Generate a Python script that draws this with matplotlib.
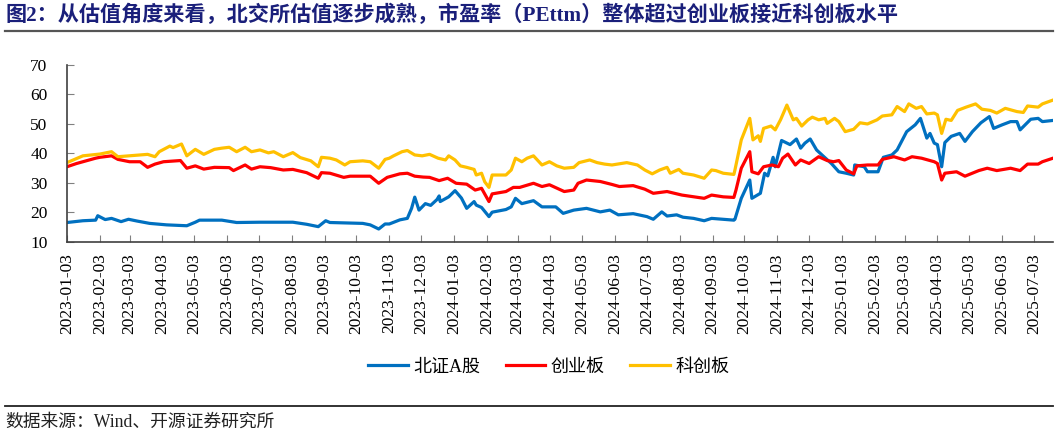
import pandas as pd
import matplotlib
matplotlib.use("Agg")
import matplotlib.pyplot as plt
import matplotlib.dates as mdates
from matplotlib.lines import Line2D

plt.rcParams['font.family'] = ['Liberation Serif', 'Noto Sans CJK SC']

# 北证A股 PE(ttm)
bz_dates = ["2023-01-03", "2023-01-18", "2023-01-30", "2023-02-01", "2023-02-08", "2023-02-14",
            "2023-02-23", "2023-03-02", "2023-03-10", "2023-03-22", "2023-04-07", "2023-04-26",
            "2023-05-04", "2023-05-08", "2023-05-29", "2023-06-12", "2023-07-04", "2023-08-04",
            "2023-08-17", "2023-08-28", "2023-09-04", "2023-09-08", "2023-10-09", "2023-10-16",
            "2023-10-24", "2023-10-30", "2023-11-03", "2023-11-13", "2023-11-20", "2023-11-24",
            "2023-11-27", "2023-12-01", "2023-12-07", "2023-12-12", "2023-12-18", "2023-12-20",
            "2023-12-21", "2023-12-29", "2024-01-04", "2024-01-10", "2024-01-15", "2024-01-22",
            "2024-01-24", "2024-01-29", "2024-02-05", "2024-02-08", "2024-02-21", "2024-02-26",
            "2024-03-01", "2024-03-07", "2024-03-18", "2024-03-26", "2024-04-08", "2024-04-15",
            "2024-04-25", "2024-05-07", "2024-05-20", "2024-05-29", "2024-06-06", "2024-06-20",
            "2024-07-03", "2024-07-09", "2024-07-17", "2024-07-22", "2024-07-31", "2024-08-06",
            "2024-08-16", "2024-08-26", "2024-09-02", "2024-09-23", "2024-09-24", "2024-09-30",
            "2024-10-08", "2024-10-10", "2024-10-18", "2024-10-22", "2024-10-25", "2024-10-30",
            "2024-11-01", "2024-11-07", "2024-11-15", "2024-11-21", "2024-11-25", "2024-11-29",
            "2024-12-04", "2024-12-10", "2024-12-16", "2024-12-24", "2024-12-31", "2025-01-07",
            "2025-01-14", "2025-01-15", "2025-01-24", "2025-01-27", "2025-02-06", "2025-02-11",
            "2025-02-19", "2025-02-24", "2025-03-05", "2025-03-13", "2025-03-18", "2025-03-24",
            "2025-03-27", "2025-03-31", "2025-04-03", "2025-04-07", "2025-04-10", "2025-04-16",
            "2025-04-24", "2025-04-29", "2025-05-06", "2025-05-14", "2025-05-22", "2025-05-26",
            "2025-06-03", "2025-06-11", "2025-06-17", "2025-06-20", "2025-06-30", "2025-07-07",
            "2025-07-11", "2025-07-21"]
bz_pe = [16.6, 17.2, 17.4, 18.9, 17.6, 18.0,
         16.9, 17.7, 17.1, 16.3, 15.8, 15.5,
         16.7, 17.4, 17.4, 16.6, 16.7, 16.7,
         16.0, 15.2, 17.2, 16.6, 16.3, 15.8,
         14.4, 16.1, 16.1, 17.5, 18.0, 21.4,
         25.2, 20.8, 23.0, 22.4, 24.4, 25.6,
         23.7, 25.3, 27.4, 24.9, 21.4, 23.7,
         22.5, 21.7, 18.6, 20.1, 21.0, 21.9,
         24.8, 23.0, 24.0, 21.9, 21.9, 19.7,
         20.8, 21.4, 20.2, 20.8, 19.2, 19.6,
         18.6, 17.7, 20.2, 18.8, 19.2, 18.4,
         18.0, 17.2, 18.0, 17.4, 17.7, 24.8,
         31.0, 24.8, 26.5, 33.3, 32.4, 38.7,
         35.5, 44.4, 43.0, 44.9, 41.8, 43.5,
         44.9, 41.2, 39.2, 36.6, 33.8, 33.3,
         32.7, 36.1, 35.5, 33.8, 33.8, 38.7,
         39.5, 41.2, 47.4, 49.7, 51.9, 45.2,
         46.8, 43.5, 43.0, 35.5, 43.7, 45.8,
         46.8, 44.1, 47.4, 50.4, 52.5, 48.5,
         49.7, 50.8, 50.8, 48.0, 51.6, 51.9,
         50.8, 51.2]

# 创业板 PE(ttm)
cy_dates = ["2023-01-03", "2023-01-12", "2023-01-30", "2023-02-03", "2023-02-14", "2023-02-20",
            "2023-03-03", "2023-03-13", "2023-03-20", "2023-03-27", "2023-04-04", "2023-04-20",
            "2023-04-26", "2023-05-04", "2023-05-12", "2023-05-22", "2023-06-05", "2023-06-09",
            "2023-06-20", "2023-06-26", "2023-07-04", "2023-07-14", "2023-07-26", "2023-08-04",
            "2023-08-17", "2023-08-28", "2023-08-31", "2023-09-08", "2023-09-21", "2023-09-27",
            "2023-10-16", "2023-10-24", "2023-11-01", "2023-11-13", "2023-11-20", "2023-11-27",
            "2023-12-05", "2023-12-11", "2023-12-20", "2023-12-28", "2024-01-05", "2024-01-15",
            "2024-01-23", "2024-01-29", "2024-02-05", "2024-02-08", "2024-02-21", "2024-02-28",
            "2024-03-05", "2024-03-18", "2024-03-26", "2024-04-02", "2024-04-16", "2024-04-25",
            "2024-04-29", "2024-05-07", "2024-05-20", "2024-05-31", "2024-06-07", "2024-06-20",
            "2024-07-01", "2024-07-09", "2024-07-22", "2024-07-29", "2024-08-05", "2024-08-26",
            "2024-09-02", "2024-09-13", "2024-09-23", "2024-09-25", "2024-09-30", "2024-10-08",
            "2024-10-10", "2024-10-16", "2024-10-21", "2024-10-29", "2024-11-04", "2024-11-08",
            "2024-11-13", "2024-11-20", "2024-11-25", "2024-12-03", "2024-12-12", "2024-12-20",
            "2024-12-26", "2024-12-31", "2025-01-07", "2025-01-14", "2025-01-17", "2025-01-27",
            "2025-02-06", "2025-02-10", "2025-02-21", "2025-03-03", "2025-03-10", "2025-03-19",
            "2025-03-31", "2025-04-03", "2025-04-07", "2025-04-10", "2025-04-21", "2025-04-29",
            "2025-05-12", "2025-05-20", "2025-05-29", "2025-06-11", "2025-06-20", "2025-06-27",
            "2025-07-07", "2025-07-11", "2025-07-21"]
cy_pe = [35.5, 36.6, 38.4, 38.7, 39.2, 38.0,
         37.2, 37.2, 35.3, 36.4, 37.2, 37.6,
         35.0, 35.8, 34.7, 35.3, 35.2, 34.2,
         36.1, 34.7, 35.5, 35.2, 34.4, 34.6,
         33.5, 31.6, 33.5, 33.3, 31.9, 32.3,
         32.3, 29.9, 31.9, 33.1, 33.3, 32.3,
         32.0, 31.9, 30.8, 31.6, 29.9, 29.6,
         27.6, 28.2, 23.7, 26.3, 27.1, 28.5,
         28.5, 29.9, 28.8, 29.4, 27.1, 27.6,
         29.9, 31.0, 30.5, 29.5, 28.8, 29.1,
         27.9, 26.5, 27.1, 26.5, 25.9, 24.8,
         25.9, 25.3, 25.1, 27.6, 35.0, 40.6,
         33.8, 33.1, 35.5, 36.1, 35.5, 38.4,
         39.8, 36.1, 37.8, 36.6, 38.9, 37.6,
         37.2, 37.6, 34.4, 33.1, 35.8, 36.1,
         36.1, 38.0, 38.9, 37.8, 38.9, 38.4,
         37.2, 36.6, 31.0, 33.3, 33.8, 32.3,
         34.2, 35.0, 34.2, 35.0, 34.2, 36.4,
         36.4, 37.2, 38.4]

# 科创板 PE(ttm)
kc_dates = ["2023-01-03", "2023-01-18", "2023-02-03", "2023-02-14", "2023-02-20", "2023-03-03",
            "2023-03-20", "2023-03-27", "2023-03-31", "2023-04-10", "2023-04-13", "2023-04-21",
            "2023-04-26", "2023-05-04", "2023-05-12", "2023-05-22", "2023-05-29", "2023-06-05",
            "2023-06-12", "2023-06-20", "2023-06-26", "2023-07-04", "2023-07-12", "2023-07-17",
            "2023-07-26", "2023-08-04", "2023-08-11", "2023-08-21", "2023-08-28", "2023-08-31",
            "2023-09-08", "2023-09-14", "2023-09-22", "2023-09-27", "2023-10-09", "2023-10-16",
            "2023-10-24", "2023-10-30", "2023-11-03", "2023-11-07", "2023-11-15", "2023-11-20",
            "2023-11-27", "2023-12-04", "2023-12-11", "2023-12-19", "2023-12-26", "2023-12-29",
            "2024-01-04", "2024-01-09", "2024-01-15", "2024-01-22", "2024-01-24", "2024-01-29",
            "2024-02-01", "2024-02-05", "2024-02-08", "2024-02-21", "2024-02-26", "2024-03-01",
            "2024-03-07", "2024-03-12", "2024-03-18", "2024-03-26", "2024-04-02", "2024-04-09",
            "2024-04-16", "2024-04-25", "2024-04-30", "2024-05-10", "2024-05-17", "2024-05-24",
            "2024-05-31", "2024-06-14", "2024-06-24", "2024-07-01", "2024-07-08", "2024-07-15",
            "2024-07-22", "2024-07-25", "2024-08-02", "2024-08-06", "2024-08-16", "2024-08-26",
            "2024-09-02", "2024-09-06", "2024-09-13", "2024-09-23", "2024-09-24", "2024-09-30",
            "2024-10-08", "2024-10-11", "2024-10-16", "2024-10-18", "2024-10-21", "2024-10-28",
            "2024-11-01", "2024-11-06", "2024-11-12", "2024-11-18", "2024-11-21", "2024-11-26",
            "2024-12-02", "2024-12-06", "2024-12-12", "2024-12-18", "2024-12-20", "2024-12-27",
            "2024-12-31", "2025-01-06", "2025-01-14", "2025-01-20", "2025-01-27", "2025-02-05",
            "2025-02-10", "2025-02-19", "2025-02-24", "2025-03-03", "2025-03-07", "2025-03-14",
            "2025-03-19", "2025-03-24", "2025-03-31", "2025-04-03", "2025-04-07", "2025-04-11",
            "2025-04-16", "2025-04-22", "2025-04-30", "2025-05-09", "2025-05-15", "2025-05-23",
            "2025-05-29", "2025-06-06", "2025-06-17", "2025-06-23", "2025-06-27", "2025-07-07",
            "2025-07-11", "2025-07-21"]
kc_pe = [36.9, 39.2, 39.8, 40.6, 38.9, 39.2,
         39.7, 38.9, 40.6, 42.5, 42.0, 43.2,
         39.2, 41.4, 39.7, 41.4, 41.8, 42.1,
         40.6, 42.1, 40.6, 41.2, 40.2, 40.6,
         38.9, 40.3, 38.6, 37.5, 35.5, 38.7,
         38.4, 37.8, 36.1, 37.2, 37.5, 37.2,
         35.0, 38.0, 38.4, 39.2, 40.6, 41.0,
         39.5, 39.2, 39.7, 38.4, 37.8, 39.2,
         37.8, 35.8, 35.3, 34.6, 32.7, 33.3,
         30.4, 28.5, 32.7, 32.7, 34.4, 38.4,
         37.2, 38.4, 39.2, 36.1, 37.2, 35.8,
         35.0, 35.3, 36.9, 37.8, 36.9, 36.4,
         36.1, 36.9, 36.1, 34.4, 33.1, 34.4,
         35.3, 33.3, 34.6, 33.3, 32.7, 31.6,
         34.4, 34.2, 33.3, 32.9, 34.4, 44.6,
         51.9, 44.6, 46.0, 44.1, 48.5, 49.3,
         48.0, 51.4, 56.4, 51.4, 51.9, 49.3,
         51.4, 52.3, 51.4, 51.9, 50.2, 51.9,
         50.8, 47.4, 48.2, 50.4, 50.0, 51.4,
         52.7, 53.1, 55.9, 54.2, 56.8, 55.3,
         55.9, 53.4, 53.7, 53.1, 46.8, 51.6,
         51.2, 54.6, 55.7, 56.8, 55.0, 54.6,
         53.7, 55.3, 54.2, 53.9, 56.1, 55.7,
         56.8, 58.1]

title = "图2：从估值角度来看，北交所估值逐步成熟，市盈率（PEttm）整体超过创业板接近科创板水平"
source = "数据来源：Wind、开源证券研究所"

fig = plt.figure(figsize=(10.57, 4.36), dpi=100)
ax = fig.add_axes([0.0634, 0.445, 0.9328, 0.406])

ax.plot(pd.to_datetime(bz_dates), bz_pe, color='#0070C0', lw=2.3, label='北证A股')
ax.plot(pd.to_datetime(cy_dates), cy_pe, color='#FF0000', lw=2.3, label='创业板')
ax.plot(pd.to_datetime(kc_dates), kc_pe, color='#FFC000', lw=2.3, label='科创板')

ax.set_ylim(10, 70)
ax.set_yticks(range(10, 71, 10))
ax.set_xlim(pd.Timestamp("2023-01-03"), pd.Timestamp("2025-07-21"))
ax.xaxis.set_major_locator(mdates.MonthLocator(bymonthday=3))
ax.xaxis.set_major_formatter(mdates.DateFormatter('%Y-%m-%d'))

for s in ['top', 'right']:
    ax.spines[s].set_visible(False)
for s in ['left', 'bottom']:
    ax.spines[s].set_color('#404040')
    ax.spines[s].set_linewidth(1.2)

ax.tick_params(axis='x', direction='in', length=5, color='#808080', pad=8,
               labelsize=12.5, labelrotation=90)
ax.tick_params(axis='y', direction='in', length=5, color='#808080', pad=14,
               labelsize=12.5)

fig.legend(loc='center', bbox_to_anchor=(0.519, 0.158), ncol=3, frameon=False,
           fontsize=13, handlelength=2.2, handletextpad=0.3, columnspacing=1.4)

fig.text(0.005, 0.966, title, fontsize=15.2, fontweight='bold', color='#1a1f7a',
         va='center', ha='left')
fig.add_artist(Line2D([0.005, 0.996], [0.929, 0.929], color='#555555', lw=1.6,
                      transform=fig.transFigure))
fig.add_artist(Line2D([0.005, 0.996], [0.069, 0.069], color='#222222', lw=1.3,
                      transform=fig.transFigure))
fig.text(0.005, 0.032, source, fontsize=12.8, color='#222222', va='center', ha='left')

fig.savefig('out.png', dpi=100)
